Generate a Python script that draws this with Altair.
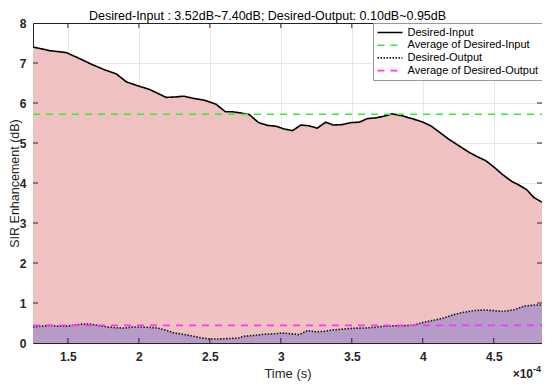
import altair as alt
import pandas as pd

title_text = "Desired-Input : 3.52dB~7.40dB; Desired-Output: 0.10dB~0.95dB"

# time in units of 1e-4 s
input_t = [1.254, 1.371, 1.489, 1.570, 1.665, 1.758, 1.840, 1.911, 1.992, 2.075,
           2.133, 2.192, 2.250, 2.316, 2.379, 2.461, 2.544, 2.609, 2.660, 2.720,
           2.778, 2.843, 2.907, 2.966, 3.024, 3.082, 3.142, 3.200, 3.256, 3.316,
           3.369, 3.434, 3.493, 3.552, 3.610, 3.671, 3.727, 3.784, 3.854, 3.924,
           3.995, 4.056, 4.114, 4.185, 4.255, 4.325, 4.383, 4.443, 4.501, 4.559,
           4.627, 4.677, 4.733, 4.782, 4.840]
input_v = [7.40, 7.31, 7.26, 7.13, 6.97, 6.83, 6.73, 6.53, 6.43, 6.34,
           6.24, 6.14, 6.15, 6.17, 6.12, 6.07, 5.97, 5.78, 5.78, 5.75,
           5.71, 5.51, 5.44, 5.42, 5.35, 5.31, 5.45, 5.43, 5.37, 5.52,
           5.45, 5.46, 5.51, 5.52, 5.61, 5.63, 5.67, 5.73, 5.68, 5.61,
           5.53, 5.43, 5.28, 5.09, 4.93, 4.77, 4.66, 4.56, 4.40, 4.22,
           4.04, 3.95, 3.83, 3.64, 3.52]

output_t = [1.254, 1.313, 1.371, 1.430, 1.489, 1.547, 1.606, 1.665, 1.723, 1.781,
            1.840, 1.899, 1.957, 2.016, 2.075, 2.133, 2.192, 2.250, 2.309, 2.368,
            2.438, 2.502, 2.555, 2.625, 2.696, 2.743, 2.813, 2.883, 2.954, 3.012,
            3.071, 3.130, 3.188, 3.247, 3.305, 3.376, 3.446, 3.516, 3.587, 3.657,
            3.727, 3.798, 3.868, 3.938, 4.009, 4.079, 4.149, 4.220, 4.290, 4.361,
            4.431, 4.501, 4.571, 4.642, 4.712, 4.782, 4.840]
output_v = [0.40, 0.42, 0.44, 0.42, 0.42, 0.45, 0.475, 0.47, 0.43, 0.40,
            0.38, 0.375, 0.40, 0.40, 0.39, 0.375, 0.32, 0.25, 0.22, 0.18,
            0.13, 0.10, 0.10, 0.11, 0.12, 0.17, 0.19, 0.22, 0.23, 0.25,
            0.23, 0.21, 0.31, 0.28, 0.29, 0.33, 0.35, 0.37, 0.375, 0.39,
            0.42, 0.43, 0.43, 0.45, 0.52, 0.57, 0.625, 0.71, 0.77, 0.81,
            0.825, 0.81, 0.79, 0.83, 0.92, 0.95, 0.95]

avg_input = 5.72
avg_output = 0.44
x_min, x_max = 1.254, 4.840
x_ticks = [1.5, 2, 2.5, 3, 3.5, 4, 4.5]
y_ticks = [0, 1, 2, 3, 4, 5, 6, 7, 8]

series_names = ["Desired-Input", "Average of Desired-Input",
                "Desired-Output", "Average of Desired-Output"]
series_colors = ["#000000", "#33ee33", "#1a1a1a", "#ff33ff"]
series_dash = [[1, 0], [7, 6], [1.5, 1.5], [7, 6]]

W, H = 509, 320
FONT = "Liberation Sans"

df_in = pd.DataFrame({"t": input_t, "v": input_v, "series": series_names[0]})
df_out = pd.DataFrame({"t": output_t, "v": output_v, "series": series_names[2]})
df_avg_in = pd.DataFrame({"t": [x_min, x_max], "v": [avg_input] * 2, "series": series_names[1]})
df_avg_out = pd.DataFrame({"t": [x_min, x_max], "v": [avg_output] * 2, "series": series_names[3]})
lines = pd.concat([df_in, df_avg_in, df_out, df_avg_out], ignore_index=True)

xs = alt.Scale(domain=[x_min, x_max], nice=False, zero=False)
ys = alt.Scale(domain=[0, 8], nice=False, zero=False)
x_axis = alt.Axis(values=x_ticks, format="~g", title="Time (s)", labelPadding=8,
                  titlePadding=5)
y_axis = alt.Axis(values=y_ticks, title="SIR Enhancement (dB)", labelPadding=7,
                  titlePadding=-2.5, titleFontSize=12.5)
X = alt.X("t:Q", scale=xs, axis=x_axis)
Y = alt.Y("v:Q", scale=ys, axis=y_axis)

area_in = alt.Chart(df_in).mark_area(color="#efc1c1", opacity=1).encode(x=X, y=Y)
area_out = alt.Chart(df_out).mark_area(color="#b69ac8", opacity=1).encode(x=X, y=Y)

line = alt.Chart(lines).mark_line(strokeWidth=1.6).encode(
    x=X, y=Y,
    color=alt.Color("series:N", scale=alt.Scale(domain=series_names, range=series_colors),
                    legend=alt.Legend(title=None)),
    strokeDash=alt.StrokeDash("series:N", scale=alt.Scale(domain=series_names, range=series_dash),
                              legend=alt.Legend(title=None)),
)

tx = pd.DataFrame({"t": x_ticks})
ty = pd.DataFrame({"v": y_ticks[1:-1]})
tick_b = alt.Chart(tx).mark_rule(color="#262626").encode(x=X, y=alt.value(H), y2=alt.value(H - 5))
tick_t = alt.Chart(tx).mark_rule(color="#262626").encode(x=X, y=alt.value(0), y2=alt.value(5))
tick_l = alt.Chart(ty).mark_rule(color="#262626").encode(y=Y, x=alt.value(0), x2=alt.value(5))
tick_r = alt.Chart(ty).mark_rule(color="#262626").encode(y=Y, x=alt.value(W), x2=alt.value(W - 5))

exp_base = alt.Chart(pd.DataFrame({"s": ["\u00d710"]})).mark_text(
    font=FONT, fontSize=12, fontWeight="bold", align="right", baseline="alphabetic",
    color="#262626").encode(x=alt.value(W - 9), y=alt.value(H + 35), text="s:N")
exp_pow = alt.Chart(pd.DataFrame({"s": ["-4"]})).mark_text(
    font=FONT, fontSize=9, fontWeight="bold", align="left", baseline="alphabetic",
    color="#262626").encode(x=alt.value(W - 9), y=alt.value(H + 29), text="s:N")

chart = alt.layer(area_in, area_out, line, tick_b, tick_t, tick_l, tick_r, exp_base, exp_pow).properties(
    width=W, height=H,
    title=alt.TitleParams(title_text, font=FONT, fontSize=12.5, fontWeight="normal",
                          color="#000000", anchor="middle", offset=-5, dx=-20),
    padding={"left": 25, "top": 15, "right": 0, "bottom": 38},
    autosize=alt.AutoSizeParams(type="none"),
).configure_view(
    stroke="#262626", strokeWidth=1
).configure_axis(
    labelFont=FONT, labelFontSize=12, labelFontWeight="bold", labelColor="#262626",
    titleFont=FONT, titleFontSize=13, titleFontWeight="normal", titleColor="#262626",
    ticks=False, domain=False, grid=True, gridColor="#000000", gridOpacity=0.09,
    zindex=1
).configure_legend(
    orient="top-right", offset=0, symbolType="M-1,0H4", symbolSize=100,
    symbolStrokeWidth=1.6, labelFont=FONT, labelFontSize=11, labelColor="#000000",
    padding=3.5, rowPadding=1.7, labelOffset=19, fillColor="#ffffff",
    strokeColor="#999999", zindex=2
)

chart.save("out.html", embed_options={"renderer": "svg", "actions": False})
